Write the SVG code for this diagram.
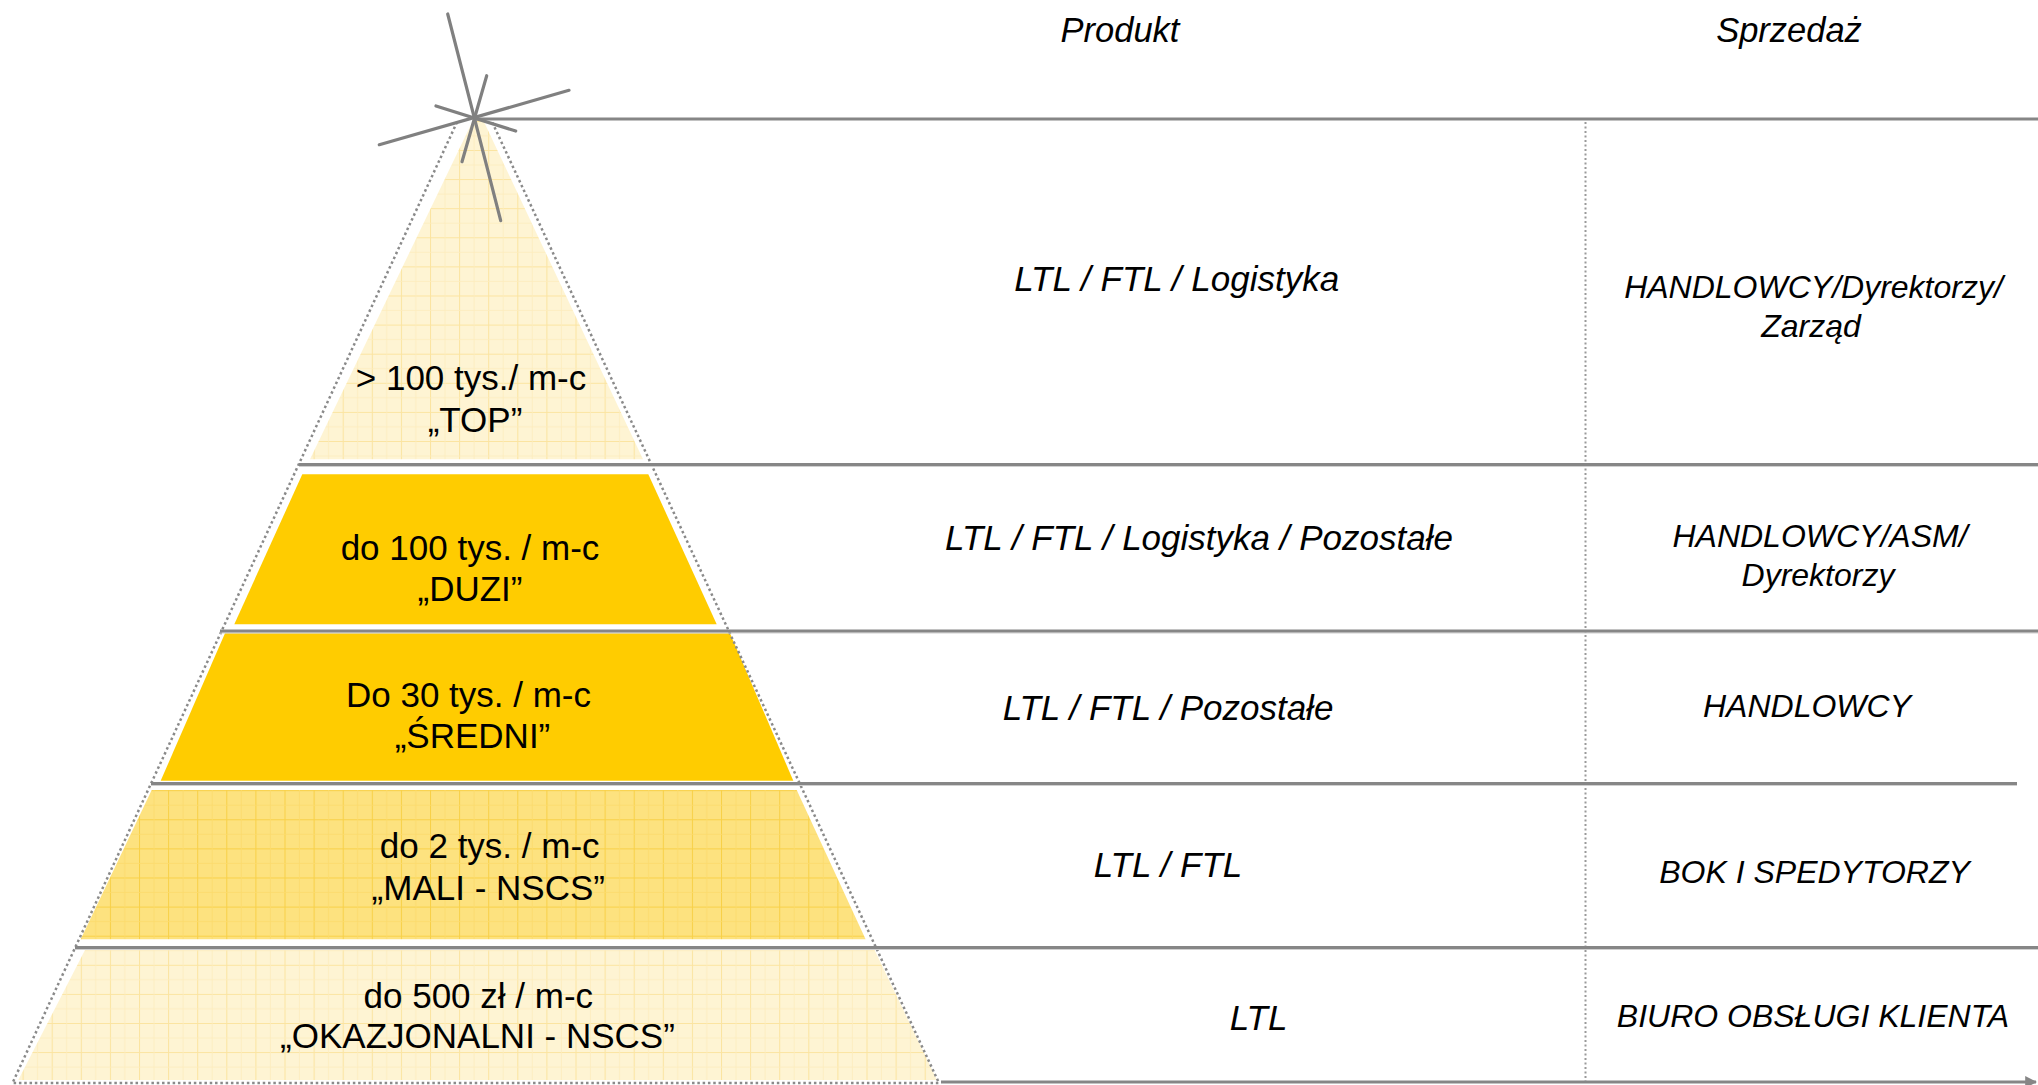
<svg xmlns="http://www.w3.org/2000/svg" width="2038" height="1085" viewBox="0 0 2038 1085">
  <style>
    .lbl { font-family: "Liberation Sans", Arial, sans-serif; font-size: 35px; fill: #000; text-anchor: middle; }
    .col { font-family: "Liberation Sans", Arial, sans-serif; font-style: italic; font-size: 35px; fill: #000; text-anchor: middle; }
    .head { font-family: "Liberation Sans", Arial, sans-serif; font-style: italic; font-size: 34.5px; fill: #000; text-anchor: middle; }
    .sales { font-family: "Liberation Sans", Arial, sans-serif; font-style: italic; font-size: 32px; fill: #000; text-anchor: middle; }
    .rule { stroke: #868686; stroke-width: 3; fill: none; }
    .rule2 { stroke: #d0d0d0; stroke-width: 1.2; fill: none; }
    .dots { stroke: #8a8a8a; stroke-width: 2.5; stroke-dasharray: 2.5 2.8; fill: none; }
    .vdots { stroke: #9a9a9a; stroke-width: 2; stroke-dasharray: 2 2.5; fill: none; }
    .ray { stroke: #808080; stroke-width: 3.2; stroke-linecap: round; fill: none; }
    .solid { fill: #FFCC00; }
  </style>
  <defs>
    <pattern id="gridPale" patternUnits="userSpaceOnUse" x="22.6" y="4.5" width="29.1" height="29.1">
      <rect width="29.1" height="29.1" fill="#FEF4D3"/>
      <path d="M0.5 0V29.1M0 0.5H29.1" stroke="#FBE4A0" stroke-width="1"/>
      <path d="M15 0V29.1M0 15H29.1" stroke="#FCEDBE" stroke-width="0.8"/>
    </pattern>
    <pattern id="gridMid" patternUnits="userSpaceOnUse" x="22.6" y="4.5" width="29.1" height="29.1">
      <rect width="29.1" height="29.1" fill="#FDE27F"/>
      <path d="M0.5 0V29.1M0 0.5H29.1" stroke="#F8D047" stroke-width="1"/>
      <path d="M15 0V29.1M0 15H29.1" stroke="#FBDB6C" stroke-width="0.8"/>
    </pattern>
    <marker id="arrow" viewBox="0 0 10 10" refX="9" refY="5" markerWidth="4" markerHeight="4" orient="auto" markerUnits="strokeWidth">
      <path d="M0 0L10 5L0 10Z" fill="#868686"/>
    </marker>
  </defs>

  <rect width="2038" height="1085" fill="#fff"/>

  <!-- pyramid bands -->
  <g id="band-top">
    <polygon points="472.7,121 483.6,121 643,459.3 310,459.3" fill="url(#gridPale)"/>
    <text class="lbl" x="471" y="390">&gt; 100 tys./ m-c</text>
    <text class="lbl" x="475" y="431.7">„TOP”</text>
  </g>
  <g id="band-duzi">
    <polygon class="solid" points="302.3,474.3 648.3,474.3 716.7,624.3 234.3,624.3"/>
    <text class="lbl" x="470" y="560">do 100 tys. / m-c</text>
    <text class="lbl" x="470" y="601">„DUZI”</text>
  </g>
  <g id="band-sredni">
    <polygon class="solid" points="225,633.3 730,633.3 793.3,780.7 160.7,780.7"/>
    <text class="lbl" x="468.5" y="706.7">Do 30 tys. / m-c</text>
    <text class="lbl" x="472.5" y="748.3">„ŚREDNI”</text>
  </g>
  <g id="band-mali">
    <polygon points="151.7,790 796.7,790 865.6,939.3 80.7,939.3" fill="url(#gridMid)"/>
    <text class="lbl" x="489.7" y="857.7">do 2 tys. / m-c</text>
    <text class="lbl" x="488.3" y="900">„MALI - NSCS”</text>
  </g>
  <g id="band-okazjonalni">
    <polygon points="85,950 874.6,950 937,1080 18.3,1080" fill="url(#gridPale)"/>
    <text class="lbl" x="478.3" y="1008.3">do 500 zł / m-c</text>
    <text class="lbl" x="477.5" y="1048.3">„OKAZJONALNI - NSCS”</text>
  </g>

  <!-- dotted outline of the pyramid -->
  <g id="outline">
    <path class="dots" d="M457.1 122L12.5 1083H939L492.1 122"/>
  </g>

  <!-- column headers -->
  <g id="headers">
    <text class="head" x="1120" y="42">Produkt</text>
    <text class="head" x="1789" y="42">Sprzedaż</text>
  </g>

  <!-- product column -->
  <g id="produkt">
    <text class="col" x="1176.7" y="291">LTL / FTL / Logistyka</text>
    <text class="col" x="1199" y="550">LTL / FTL / Logistyka / Pozostałe</text>
    <text class="col" x="1168" y="720">LTL / FTL / Pozostałe</text>
    <text class="col" x="1168" y="877">LTL / FTL</text>
    <text class="col" x="1258.6" y="1030">LTL</text>
  </g>

  <!-- sales column -->
  <g id="sprzedaz">
    <text class="sales" x="1813.5" y="298">HANDLOWCY/Dyrektorzy/</text>
    <text class="sales" x="1811" y="337">Zarząd</text>
    <text class="sales" x="1820" y="547">HANDLOWCY/ASM/</text>
    <text class="sales" x="1818" y="586">Dyrektorzy</text>
    <text class="sales" x="1807" y="717">HANDLOWCY</text>
    <text class="sales" x="1814.5" y="883">BOK I SPEDYTORZY</text>
    <text class="sales" x="1813" y="1027">BIURO OBSŁUGI KLIENTA</text>
  </g>

  <!-- row separators and column divider -->
  <g id="connectors">
    <line class="vdots" x1="1585.5" y1="122" x2="1585.5" y2="1081"/>
    <line class="rule" x1="475" y1="119" x2="2038" y2="119"/>
    <line class="rule2" x1="299" y1="466.5" x2="2038" y2="466.5"/>
    <line class="rule" x1="299" y1="464.5" x2="2038" y2="464.5"/>
    <line class="rule2" x1="220" y1="633" x2="2038" y2="633"/>
    <line class="rule" x1="220" y1="631" x2="2038" y2="631"/>
    <line class="rule2" x1="151" y1="785.5" x2="2017" y2="785.5"/>
    <line class="rule" x1="151" y1="783.5" x2="2017" y2="783.5"/>
    <line class="rule2" x1="75" y1="949.5" x2="2038" y2="949.5"/>
    <line class="rule" x1="75" y1="947.5" x2="2038" y2="947.5"/>
    <line class="rule" x1="941" y1="1082" x2="2036" y2="1082" marker-end="url(#arrow)"/>
  </g>

  <!-- star at the apex -->
  <g id="star">
    <line class="ray" x1="447.7" y1="14" x2="500.7" y2="220.7"/>
    <line class="ray" x1="486.7" y1="75.7" x2="462" y2="161.7"/>
    <line class="ray" x1="379.3" y1="144.7" x2="569" y2="90.3"/>
    <line class="ray" x1="436" y1="106" x2="515.7" y2="131"/>
  </g>
</svg>
